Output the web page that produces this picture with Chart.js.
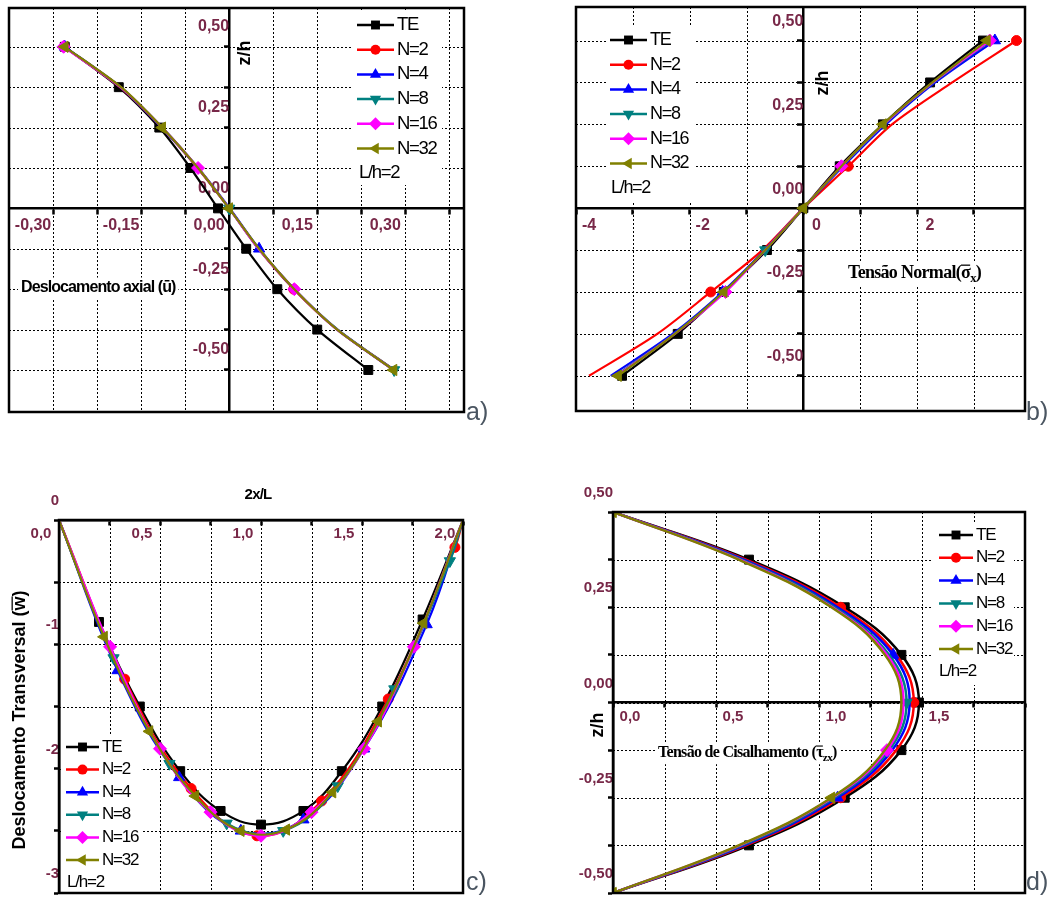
<!DOCTYPE html>
<html lang="pt">
<head>
<meta charset="utf-8">
<title>Viga FGM - L/h=2</title>
<script src="https://cdn.jsdelivr.net/npm/chart.js@4.4.1/dist/chart.umd.min.js"></script>
<style>
  html, body { margin: 0; padding: 0; background: #fff; overflow: hidden; }
  body { width: 1059px; height: 899px; position: relative; }
  canvas { position: absolute; }
  #graficoA { left: 0; top: -10px; }
  #graficoB { left: 530px; top: -10px; }
  #graficoC { left: 0; top: 445px; }
  #graficoD { left: 530px; top: 445px; }
</style>
</head>
<body>
<canvas id="graficoA" width="530" height="455"></canvas>
<canvas id="graficoB" width="529" height="455"></canvas>
<canvas id="graficoC" width="530" height="470"></canvas>
<canvas id="graficoD" width="529" height="470"></canvas>
<script>
// Séries comuns aos quatro gráficos
const series = ["TE", "N=2", "N=4", "N=8", "N=16", "N=32"];

// a) Deslocamento axial (u) em função de z/h
const zA = [0.5, 0.375, 0.25, 0.125, 0, -0.125, -0.25, -0.375, -0.5];
const uTE = [-0.280, -0.188, -0.119, -0.066, -0.019, 0.029, 0.082, 0.150, 0.237];
const uN2 = [-0.281, -0.186, -0.115, -0.054, 0.000, 0.050, 0.110, 0.184, 0.281];
const uN4 = [-0.280, -0.185, -0.115, -0.053, 0.001, 0.051, 0.111, 0.184, 0.280];
const uN8 = [-0.281, -0.185, -0.114, -0.053, 0.000, 0.050, 0.111, 0.185, 0.281];
const uN16 = [-0.282, -0.185, -0.114, -0.053, 0.000, 0.050, 0.111, 0.184, 0.280];
const uN32 = [-0.280, -0.184, -0.114, -0.053, 0.000, 0.051, 0.111, 0.184, 0.280];
const marcasA = [[0, 1, 2, 3, 4, 5, 6, 7, 8], [0, 6], [0, 5], [4, 8], [0, 3, 6], [0, 2, 4, 8]];
const gradeXA = [-0.3, -0.225, -0.15, -0.075, 0, 0.075, 0.15, 0.225, 0.3, 0.375];
const rotXA = ["-0,30", "", "-0,15", "", "0,00", "", "0,15", "", "0,30", ""];
const gradeYA = [-0.5, -0.375, -0.25, -0.125, 0, 0.125, 0.25, 0.375, 0.5];
const rotYA = ["-0,50", "", "-0,25", "", "0,00", "", "0,25", "", "0,50"];

// b) Tensão normal (sigma x) em função de z/h
const zB = [0.5, 0.375, 0.25, 0.125, 0, -0.125, -0.25, -0.375, -0.5];
const sTE = [3.16, 2.23, 1.40, 0.64, 0.00, -0.64, -1.40, -2.21, -3.19];
const sN2 = [3.75, 2.62, 1.56, 0.79, 0.00, -0.72, -1.63, -2.57, -3.77];
const sN4 = [3.37, 2.32, 1.45, 0.70, 0.00, -0.68, -1.42, -2.30, -3.39];
const sN8 = [3.30, 2.29, 1.42, 0.68, 0.00, -0.67, -1.39, -2.27, -3.30];
const sN16 = [3.28, 2.28, 1.41, 0.67, 0.00, -0.67, -1.37, -2.26, -3.28];
const sN32 = [3.23, 2.27, 1.40, 0.67, 0.00, -0.67, -1.40, -2.26, -3.26];
const marcasB = [[0, 1, 2, 3, 4, 5, 6, 7, 8], [0, 3, 6], [0, 6], [5], [0, 3, 6], [0, 2, 4, 6, 8]];
const gradeXB = [-4, -3, -2, -1, 0, 1, 2, 3];
const rotXB = ["-4", "", "-2", "", "0", "", "2", ""];
const gradeYB = [-0.5, -0.375, -0.25, -0.125, 0, 0.125, 0.25, 0.375, 0.5];
const rotYB = ["-0,50", "", "-0,25", "", "0,00", "", "0,25", "", "0,50"];

// c) Deslocamento transversal (w) em função de 2x/L
const xTE = [0, 0.198, 0.40, 0.60, 0.80, 1.00, 1.21, 1.40, 1.60, 1.80, 2.0];
const wTE = [0, -0.82, -1.50, -2.02, -2.34, -2.45, -2.34, -2.02, -1.50, -0.80, 0];
const xN2 = [0, 0.325, 0.654, 0.98, 1.30, 1.63, 1.96, 2.0];
const wN2 = [0, -1.28, -2.16, -2.54, -2.26, -1.44, -0.22, 0];
const xN4 = [0, 0.29, 0.595, 0.90, 1.21, 1.51, 1.82, 2.0];
const wN4 = [0, -1.21, -2.07, -2.50, -2.41, -1.84, -0.84, 0];
const xN8 = [0, 0.27, 0.547, 0.83, 1.11, 1.38, 1.66, 1.935, 2.0];
const wN8 = [0, -1.11, -1.96, -2.44, -2.50, -2.14, -1.36, -0.33, 0];
const xN16 = [0, 0.253, 0.50, 0.75, 1.0, 1.25, 1.51, 1.757, 2.0];
const wN16 = [0, -1.02, -1.84, -2.35, -2.54, -2.35, -1.84, -1.02, 0];
const xN32 = [0, 0.223, 0.448, 0.675, 0.90, 1.125, 1.354, 1.58, 1.805, 2.0];
const wN32 = [0, -0.94, -1.70, -2.22, -2.50, -2.49, -2.19, -1.62, -0.83, 0];
const gradeXC = [0, 0.25, 0.5, 0.75, 1.0, 1.25, 1.5, 1.75, 2.0];
const rotXC = ["0,0", "", "0,5", "", "1,0", "", "1,5", "", "2,0"];
const gradeYC = [-3, -2.5, -2, -1.5, -1, -0.5, 0];
const rotYC = ["-3", "", "-2", "", "-1", "", "0"];

// d) Tensão de cisalhamento (tau zx) em função de z/h
const zD = [0.5, 0.375, 0.25, 0.125, 0, -0.125, -0.25, -0.375, -0.5];
const tTE = [0, 0.660, 1.125, 1.400, 1.485, 1.400, 1.125, 0.660, 0];
const tN2 = [0, 0.645, 1.105, 1.375, 1.460, 1.375, 1.105, 0.645, 0];
const tN4 = [0, 0.635, 1.090, 1.360, 1.440, 1.355, 1.090, 0.635, 0];
const tN8 = [0, 0.625, 1.075, 1.340, 1.425, 1.340, 1.075, 0.625, 0];
const tN16 = [0, 0.615, 1.065, 1.330, 1.410, 1.330, 1.065, 0.615, 0];
const tN32 = [0, 0.610, 1.060, 1.320, 1.400, 1.320, 1.060, 0.610, 0];
const marcasD = [[1, 2, 3, 4, 5, 6, 7], [2, 4, 6], [3, 6], [4], [5], [0, 6, 8]];
const gradeXD = [0, 0.25, 0.5, 0.75, 1.0, 1.25, 1.5, 1.75, 2.0];
const rotXD = ["0,0", "", "0,5", "", "1,0", "", "1,5", "", ""];
const gradeYD = [-0.5, -0.375, -0.25, -0.125, 0, 0.125, 0.25, 0.375, 0.5];
const rotYD = ["-0,50", "", "-0,25", "", "0,00", "", "0,25", "", "0,50"];

// Estilo de cada série (cor e marcador, como no Origin)
const estilos = [
	{ cor: "#000000", ponto: "rect", rot: 0, raio: 6.3 },
	{ cor: "#ff0000", ponto: "circle", rot: 0, raio: 5 },
	{ cor: "#0000ff", ponto: "triangle", rot: 0, raio: 6.5 },
	{ cor: "#008080", ponto: "triangle", rot: 180, raio: 6.5 },
	{ cor: "#ff00ff", ponto: "rectRot", rot: 0, raio: 6.5 },
	{ cor: "#808000", ponto: "triangle", rot: -90, raio: 6.5 },
];

const corRotulo = "#782848";
const sans = '"Liberation Sans", Arial, sans-serif';
const serif = '"Liberation Serif", "Times New Roman", serif';
Chart.defaults.font.family = sans;

// Desenha um marcador igual aos do Chart.js (usado na legenda)
const marcador = (ctx, estilo, x, y, r, rot) => {
	ctx.beginPath();
	if (estilo === "circle") {
		ctx.arc(x, y, r, 0, 2 * Math.PI);
	} else if (estilo === "rect") {
		const s = r * Math.SQRT1_2;
		ctx.rect(x - s, y - s, 2 * s, 2 * s);
	} else if (estilo === "rectRot") {
		ctx.moveTo(x, y - r);
		ctx.lineTo(x + r, y);
		ctx.lineTo(x, y + r);
		ctx.lineTo(x - r, y);
		ctx.closePath();
	} else {
		for (let k = 0; k < 3; k++) {
			const a = ((rot + k * 120) * Math.PI) / 180;
			const px = x + Math.sin(a) * r;
			const py = y - Math.cos(a) * r;
			if (k === 0) ctx.moveTo(px, py);
			else ctx.lineTo(px, py);
		}
		ctx.closePath();
	}
	ctx.fill();
};

// Escreve um texto composto (com subscrito e barra por cima)
const escreve = (ctx, t) => {
	const tam = t.tam;
	const fonte = (sz) => `${t.peso || "normal"} ${sz}px ${t.familia || sans}`;
	ctx.save();
	ctx.translate(t.x, t.y);
	if (t.ang) ctx.rotate((t.ang * Math.PI) / 180);
	if ("letterSpacing" in ctx) ctx.letterSpacing = (t.esp || 0) + "px";
	let largura = 0;
	const partes = t.partes.map((p) => {
		const sz = p.sub ? tam * 0.7 : tam;
		ctx.font = fonte(sz);
		const w = ctx.measureText(p.s).width;
		largura += w;
		return { p, sz, w };
	});
	let x = t.alinha === "center" ? -largura / 2 : 0;
	if (t.fundo) {
		ctx.fillStyle = "#fff";
		ctx.fillRect(x - 3, -tam * 0.65, largura + 6, tam * 1.35);
	}
	ctx.fillStyle = t.cor || "#000";
	ctx.textBaseline = "middle";
	ctx.textAlign = "left";
	partes.forEach(({ p, sz, w }) => {
		ctx.font = fonte(sz);
		ctx.fillText(p.s, x, p.sub ? tam * 0.3 : 0);
		if (p.barra) ctx.fillRect(x, -tam * 0.47, w, Math.max(1, tam * 0.07));
		x += w;
	});
	ctx.restore();
};

// Grade pontilhada nas posições dos ticks de cada escala
const desenhaGrade = (chart) => {
	const { ctx, chartArea: a, scales } = chart;
	ctx.save();
	ctx.strokeStyle = "#000";
	ctx.lineWidth = 1;
	ctx.setLineDash([2, 2]);
	ctx.beginPath();
	scales.x.ticks.forEach((t) => {
		const px = Math.round(scales.x.getPixelForValue(t.value)) + 0.5;
		ctx.moveTo(px, a.top);
		ctx.lineTo(px, a.bottom);
	});
	scales.y.ticks.forEach((t) => {
		const py = Math.round(scales.y.getPixelForValue(t.value)) + 0.5;
		ctx.moveTo(a.left, py);
		ctx.lineTo(a.right, py);
	});
	ctx.stroke();
	ctx.restore();
};

// Plugin com a grade, a moldura, a legenda e os textos de cada painel
const extras = (cfg) => ({
	id: "extras",
	beforeDatasetsDraw(chart) {
		desenhaGrade(chart);
		const c = cfg.legenda.caixa;
		chart.ctx.save();
		chart.ctx.fillStyle = "#fff";
		chart.ctx.fillRect(c[0], c[1], c[2], c[3]);
		chart.ctx.restore();
	},
	afterDatasetsDraw(chart) {
		const ctx = chart.ctx;
		const lg = cfg.legenda;
		series.forEach((nome, i) => {
			const e = estilos[i];
			const y = lg.y + i * lg.dy;
			ctx.save();
			ctx.strokeStyle = e.cor;
			ctx.fillStyle = e.cor;
			ctx.lineWidth = 2.5;
			ctx.beginPath();
			ctx.moveTo(lg.x, y);
			ctx.lineTo(lg.x + lg.linha, y);
			ctx.stroke();
			marcador(ctx, e.ponto, lg.x + lg.linha / 2, y, e.raio, e.rot);
			ctx.restore();
			escreve(ctx, { x: lg.x + lg.linha + 3, y, partes: [{ s: nome }], tam: lg.tam, esp: lg.esp });
		});
		escreve(ctx, { x: lg.xNota, y: lg.y + 6 * lg.dy, partes: [{ s: "L/h=2" }], tam: lg.tam, esp: lg.esp });
		cfg.textos.forEach((t) => escreve(ctx, t));
	},
	afterDraw(chart) {
		const { left, top, right, bottom } = chart.chartArea;
		const ctx = chart.ctx;
		ctx.save();
		ctx.strokeStyle = "#000";
		ctx.lineWidth = 2.5;
		ctx.strokeRect(left, top, right - left, bottom - top);
		ctx.restore();
	},
});

// Eixo linear no meio do gráfico, com rótulos deslocados
const eixo = (min, max, grade, rotulos, posicao, c) => ({
	type: "linear",
	min,
	max,
	position: posicao,
	afterBuildTicks: (s) => {
		s.ticks = grade.map((v) => ({ value: v }));
	},
	ticks: {
		callback: (v, i) => rotulos[i],
		autoSkip: false,
		maxRotation: 0,
		color: corRotulo,
		font: { size: c.tam, weight: "bold" },
		labelOffset: c.desloc,
		padding: c.pad,
	},
	grid: { drawOnChartArea: false, tickLength: c.tick, tickColor: "#000", tickWidth: 2.5 },
	border: { display: true, color: "#000", width: 2.5 },
});

const conjuntos = (xs, ys, marcas, espessura, tensao) =>
	series.map((nome, i) => {
		const e = estilos[i];
		const yy = Array.isArray(ys[0]) ? ys[i] : ys;
		return {
			label: nome,
			data: xs[i].map((x, k) => ({ x, y: yy[k] })),
			showLine: true,
			borderColor: e.cor,
			backgroundColor: e.cor,
			borderWidth: espessura,
			tension: tensao,
			pointStyle: e.ponto,
			pointRotation: e.rot,
			pointRadius: (c) => (marcas[i].includes(c.dataIndex) ? e.raio : 0),
			pointBorderWidth: 1,
			pointBorderColor: e.cor,
			pointBackgroundColor: e.cor,
			order: series.length - i,
		};
	});

const grafico = (id, datasets, padding, scales, cfg) =>
	new Chart(document.getElementById(id), {
		type: "scatter",
		data: { datasets },
		options: {
			responsive: false,
			animation: false,
			layout: { padding },
			plugins: { legend: { display: false }, tooltip: { enabled: false } },
			scales,
		},
		plugins: [extras(cfg)],
	});

// a)
grafico(
	"graficoA",
	conjuntos([uTE, uN2, uN4, uN8, uN16, uN32], zA, marcasA, 2.2, 0.25),
	{ left: 9, top: 18, right: 66, bottom: 33 },
	{
		x: eixo(-0.375, 0.4, gradeXA, rotXA, { y: 0 }, { tam: 16, desloc: -20, pad: 3, tick: 5 }),
		y: eixo(-0.63, 0.62, gradeYA, rotYA, { x: 0 }, { tam: 16, desloc: -20, pad: 0, tick: 4 }),
	},
	{
		legenda: { x: 357, y: 35, dy: 24.7, linha: 37, tam: 18.5, esp: -1.3, xNota: 359, caixa: [352, 21, 90, 174] },
		textos: [
			{ x: 245, y: 63, ang: -90, alinha: "center", partes: [{ s: "z/h" }], tam: 18, peso: "bold" },
			{ x: 21, y: 298, partes: [{ s: "Deslocamento axial (ū)" }], tam: 16, peso: "bold", esp: -0.9, fundo: true },
			{ x: 466, y: 423, partes: [{ s: "a)" }], tam: 25, cor: "#4a5561" },
		],
	}
);

// b)
grafico(
	"graficoB",
	conjuntos([sTE, sN2, sN4, sN8, sN16, sN32], zB, marcasB, 2.2, 0.3),
	{ left: 46, top: 17, right: 34, bottom: 34 },
	{
		x: eixo(-4, 3.9, gradeXB, rotXB, { y: 0 }, { tam: 16, desloc: 13, pad: 3, tick: 5 }),
		y: eixo(-0.605, 0.6, gradeYB, rotYB, { x: 0 }, { tam: 16, desloc: -19, pad: 0, tick: 5 }),
	},
	{
		legenda: { x: 80, y: 50, dy: 24.7, linha: 37, tam: 18, esp: -1.3, xNota: 81, caixa: [78, 37, 86, 175] },
		textos: [
			{ x: 293, y: 93, ang: -90, alinha: "center", partes: [{ s: "z/h" }], tam: 18, peso: "bold" },
			{
				x: 318,
				y: 283,
				partes: [{ s: "Tensão Normal(" }, { s: "σ", barra: true }, { s: "x", sub: true }, { s: ")" }],
				tam: 18,
				peso: "bold",
				familia: serif,
				esp: -0.7,
				fundo: true,
			},
			{ x: 496, y: 423, partes: [{ s: "b)" }], tam: 25, cor: "#4a5561" },
		],
	}
);

// c)
const marcasC = [xTE, xN2, xN4, xN8, xN16, xN32].map((xs) =>
	xs.map((_, k) => k).filter((k) => k > 0 && k < xs.length - 1)
);
grafico(
	"graficoC",
	conjuntos([xTE, xN2, xN4, xN8, xN16, xN32], [wTE, wN2, wN4, wN8, wN16, wN32], marcasC, 2.2, 0.4),
	{ left: 59, top: 75, right: 67, bottom: 22 },
	{
		x: eixo(0, 2, gradeXC, rotXC, { y: 0 }, { tam: 15, desloc: -18, pad: 1, tick: 4 }),
		y: eixo(-3, 0, gradeYC, rotYC, { x: 0 }, { tam: 15, desloc: -19, pad: 2, tick: 4 }),
	},
	{
		legenda: { x: 66, y: 302, dy: 22.6, linha: 33, tam: 17, esp: -1.2, xNota: 67, caixa: [61, 290, 80, 157] },
		textos: [
			{ x: 258, y: 50, alinha: "center", partes: [{ s: "2x/L" }], tam: 15, peso: "bold", esp: -0.8 },
			{
				x: 20,
				y: 275,
				ang: -90,
				alinha: "center",
				partes: [{ s: "Deslocamento Transversal (" }, { s: "w", barra: true }, { s: ")" }],
				tam: 18,
				peso: "bold",
			},
			{ x: 466, y: 438, partes: [{ s: "c)" }], tam: 25, cor: "#4a5561" },
		],
	}
);

// d)
grafico(
	"graficoD",
	conjuntos([tTE, tN2, tN4, tN8, tN16, tN32], zD, marcasD, 2.5, 0.4),
	{ left: 83, top: 67, right: 34, bottom: 22 },
	{
		x: eixo(0, 2, gradeXD, rotXD, { y: 0 }, { tam: 15, desloc: 17, pad: 1, tick: 4 }),
		y: eixo(-0.5, 0.5, gradeYD, rotYD, { x: 0 }, { tam: 15, desloc: -19, pad: 0, tick: 4 }),
	},
	{
		legenda: { x: 409, y: 90, dy: 22.8, linha: 34, tam: 17, esp: -1.2, xNota: 409, caixa: [402, 77, 82, 163] },
		textos: [
			{ x: 68, y: 280, ang: -90, alinha: "center", partes: [{ s: "z/h" }], tam: 18, peso: "bold" },
			{
				x: 128,
				y: 308,
				partes: [{ s: "Tensão de Cisalhamento (" }, { s: "τ", barra: true }, { s: "zx", sub: true }, { s: ")" }],
				tam: 16,
				peso: "bold",
				familia: serif,
				esp: -0.7,
				fundo: true,
			},
			{ x: 496, y: 438, partes: [{ s: "d)" }], tam: 25, cor: "#4a5561" },
		],
	}
);
</script>
</body>
</html>
